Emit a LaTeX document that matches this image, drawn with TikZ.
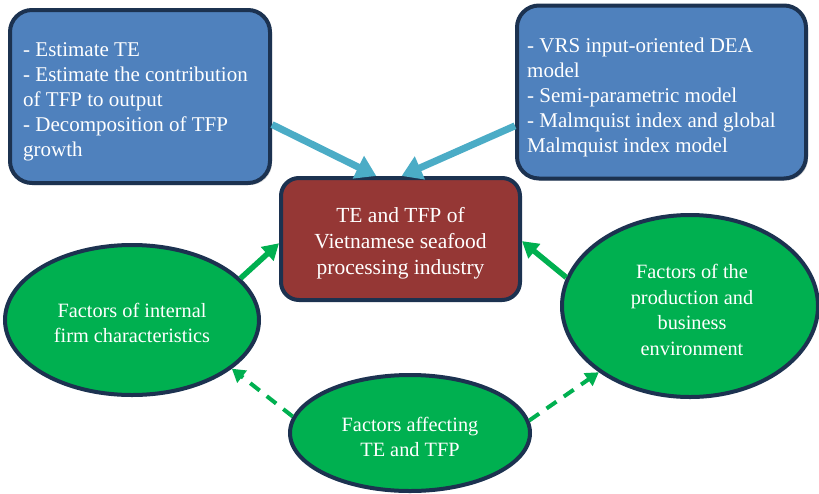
\documentclass[tikz,border=0pt]{standalone}
\usepackage{fontspec}
\setmainfont{Liberation Serif}
\usetikzlibrary{arrows.meta,shapes.geometric,shadows}
\definecolor{boxblue}{HTML}{4F81BD}
\definecolor{navy}{RGB}{28,50,80}
\definecolor{boxred}{HTML}{953735}
\definecolor{fgreen}{HTML}{00B050}
\definecolor{arrblue}{HTML}{4BACC6}
\tikzset{
  txt/.style={font=\fontsize{21}{25}\selectfont, text=white, inner sep=0pt},
  etxt/.style={font=\fontsize{20.3}{25.5}\selectfont, text=white, inner sep=0pt, align=center},
  bluebox/.style={draw=navy, line width=4pt, fill=boxblue, rounded corners=22pt,
     inner sep=0pt, drop shadow={opacity=0.35, shadow xshift=2pt, shadow yshift=-2pt}},
  redbox/.style={draw=navy, line width=4pt, fill=boxred, rounded corners=18pt, inner sep=0pt},
  gellipse/.style={ellipse, draw=navy, line width=4pt, fill=fgreen, inner sep=0pt},
  bluearrow/.style={arrblue, line width=7pt, -{Triangle[width=24pt,length=20pt]}},
  greenarrow/.style={fgreen, line width=5.5pt, -{Triangle[width=18pt,length=16pt]}},
  dasharrow/.style={fgreen, line width=4pt, dash pattern=on 12pt off 9pt, -{Triangle[width=15pt,length=13pt]}}
}
\begin{document}
\begin{tikzpicture}[x=1pt,y=-1pt]
\useasboundingbox (0,0) rectangle (819,493);
\node[bluebox, minimum width=260pt, minimum height=173pt] (lbox) at (140,96.5) {};
\node[txt, align=left, anchor=west] (ltext) at (23,102) 
  {- Estimate TE\\- Estimate the contribution\\of TFP to output\\- Decomposition of TFP\\growth};
\node[bluebox, minimum width=289pt, minimum height=173pt] (rbox) at (661.5,92) {};
\node[txt, align=left, anchor=west] (rtext) at (527,97)
  {- VRS input-oriented DEA\\model\\- Semi-parametric model\\- Malmquist index and global\\Malmquist index model};
\node[redbox, minimum width=239pt, minimum height=122pt] (cbox) at (400.5,239) {};
\node[txt, font=\fontsize{21.5}{26}\selectfont, align=center] (ctext) at (400.5,243)
  {TE and TFP of\\Vietnamese seafood\\processing industry};
\node[gellipse, minimum width=254pt, minimum height=150pt] (lell) at (132,320) {};
\node[etxt] (leltext) at (132,323) {Factors of internal\\firm characteristics};
\node[gellipse, minimum width=256pt, minimum height=182pt] (rell) at (690,306) {};
\node[etxt] (reltext) at (692,310) {Factors of the\\production and\\business\\environment};
\node[gellipse, minimum width=240pt, minimum height=116pt] (bell) at (410,433) {};
\node[etxt] (beltext) at (410,437) {Factors affecting\\TE and TFP};
\draw[bluearrow] (lbox.-12) -- (cbox.111);
\draw[bluearrow] (rbox.-167) -- (cbox.89);
\draw[greenarrow] (lell.21) -- (cbox.182);
\draw[greenarrow] (rell.167) -- (cbox.-1);
\draw[dasharrow] (bell.172) -- (lell.-26);
\draw[dasharrow] (bell.6) -- (rell.-144);
\end{tikzpicture}
\end{document}
